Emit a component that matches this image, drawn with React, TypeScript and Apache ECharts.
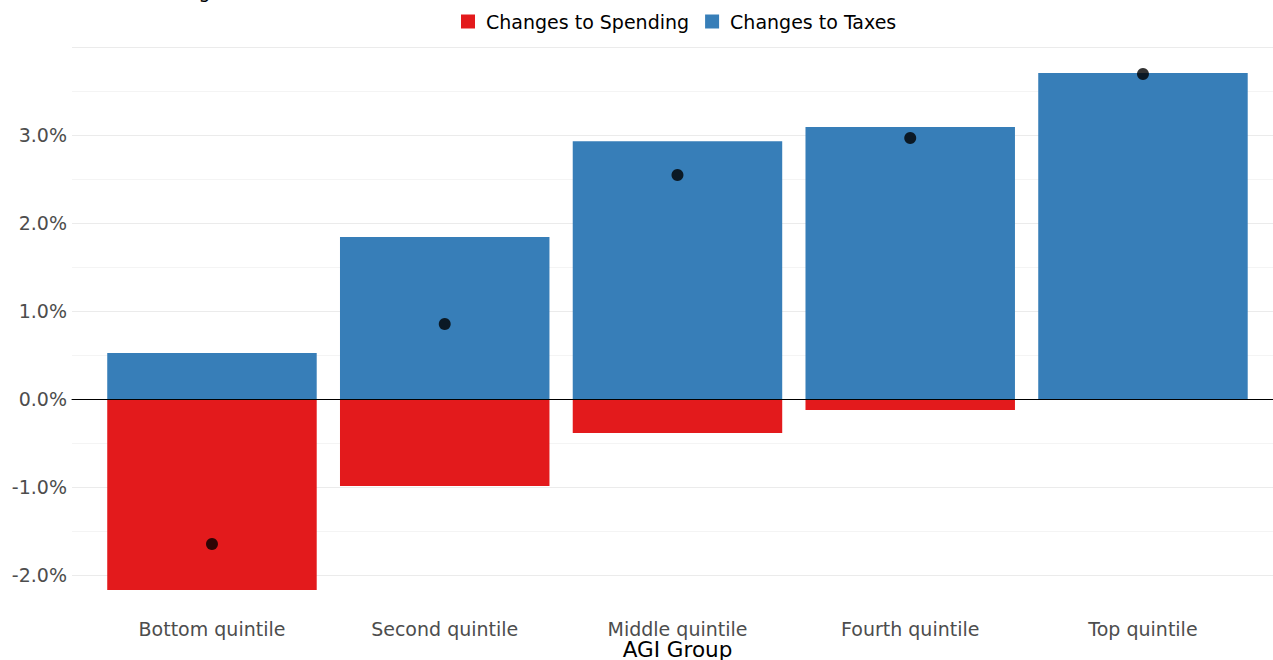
import React, { useEffect, useRef } from "react";
import * as echarts from "echarts";

const categories = ["Bottom quintile", "Second quintile", "Middle quintile", "Fourth quintile", "Top quintile"];
const spendingChanges = [-2.17, -0.99, -0.386, -0.125, -0.012];
const taxChanges = [0.523, 1.84, 2.93, 3.09, 3.705];
const netChanges = [-1.648, 0.852, 2.545, 2.966, 3.693];
const yTickLabels = [-2, -1, 0, 1, 2, 3];

const FONT = "DejaVu Sans";

export default function App() {
  const ref = useRef<HTMLDivElement>(null);
  useEffect(() => {
    if (!ref.current) return;
    const chart = echarts.init(ref.current, null, { renderer: "svg" });
    const yMin = -2.5;
    const yMax = 4;
    const gridTop = 47;
    const gridBottom = 41;
    chart.setOption({
      animation: false,
      backgroundColor: "#ffffff",
      textStyle: { fontFamily: FONT },
      legend: {
        left: 461,
        top: 12,
        padding: 0,
        itemWidth: 14,
        itemHeight: 14,
        itemGap: 16,
        icon: "rect",
        data: ["Changes to Spending", "Changes to Taxes"],
        textStyle: { fontFamily: FONT, fontSize: 19, color: "#000000", padding: [0, 0, 0, 6] },
      },
      graphic: [
        {
          type: "text",
          left: 72,
          top: -19,
          silent: true,
          style: {
            text: "Percent Change in After-Tax Income",
            fontFamily: FONT,
            fontSize: 19,
            fill: "#000000",
          },
        },
        {
          type: "text",
          x: 677.5,
          y: 649,
          silent: true,
          style: {
            text: "AGI Group",
            fontFamily: FONT,
            fontSize: 21.5,
            fill: "#000000",
            align: "center",
            verticalAlign: "middle",
          },
        },
      ],
      grid: [
        { left: 72, right: 0, top: gridTop, bottom: gridBottom, outerBoundsMode: "none", containLabel: false },
        { left: 95.6, width: 1163.75, top: gridTop, bottom: gridBottom, outerBoundsMode: "none", containLabel: false },
      ],
      xAxis: [
        {
          type: "category",
          gridIndex: 0,
          data: categories,
          z: 10,
          axisLine: { show: true, onZero: true, lineStyle: { color: "#000000", width: 1 } },
          axisTick: { show: false },
          axisLabel: { show: false },
          splitLine: { show: false },
        },
        {
          type: "category",
          gridIndex: 1,
          data: categories,
          axisLine: { show: false, onZero: false },
          axisTick: { show: false },
          axisLabel: { fontFamily: FONT, fontSize: 19, color: "#4D4D4D", margin: 0 },
        },
      ],
      yAxis: [
        {
          type: "value",
          gridIndex: 0,
          min: yMin,
          max: yMax,
          interval: 0.5,
          axisLine: { show: false },
          axisTick: { show: false },
          axisLabel: {
            fontFamily: FONT,
            fontSize: 19,
            color: "#4D4D4D",
            margin: 5,
            formatter: (v: number) => {
              const r = Math.round(v);
              if (Math.abs(v - r) < 1e-9 && yTickLabels.indexOf(r) >= 0) return r.toFixed(1) + "%";
              return "";
            },
          },
          splitLine: {
            show: true,
            showMinLine: false,
            lineStyle: { color: ["#EBEBEB", "#F4F4F4"], width: 1 },
          },
        },
        {
          type: "value",
          gridIndex: 1,
          min: yMin,
          max: yMax,
          interval: 0.5,
          show: false,
          splitLine: { show: false },
        },
      ],
      series: [
        {
          name: "Changes to Spending",
          type: "bar",
          xAxisIndex: 1,
          yAxisIndex: 1,
          stack: "total",
          barWidth: "90%",
          itemStyle: { color: "#E31A1C" },
          data: spendingChanges,
        },
        {
          name: "Changes to Taxes",
          type: "bar",
          xAxisIndex: 1,
          yAxisIndex: 1,
          stack: "total",
          barWidth: "90%",
          itemStyle: { color: "#377EB8" },
          data: taxChanges,
        },
        {
          name: "Net Change",
          type: "scatter",
          xAxisIndex: 1,
          yAxisIndex: 1,
          symbol: "circle",
          symbolSize: 12,
          z: 20,
          itemStyle: { color: "#000000" },
          data: netChanges,
        },
      ],
    });
    return () => chart.dispose();
  }, []);
  return (
    <div
      ref={ref}
      style={{ position: "fixed", left: 0, top: 0, width: 1273, height: 660 }}
    />
  );
}
